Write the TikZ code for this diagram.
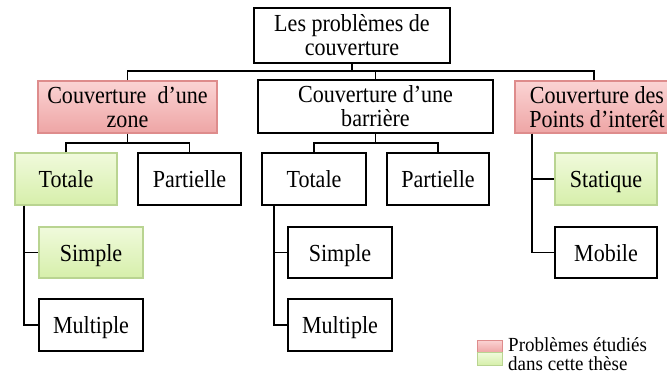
\documentclass[tikz,border=0pt]{standalone}
\usepackage{fontspec}
\setmainfont{Liberation Serif}[FakeStretch=0.9]
\newfontfamily\legfont{Liberation Serif}[FakeStretch=0.95]
\definecolor{pinkT}{RGB}{251,212,212}
\definecolor{pinkB}{RGB}{238,165,165}
\definecolor{pinkD}{RGB}{222,140,140}
\definecolor{greenT}{RGB}{240,250,220}
\definecolor{greenB}{RGB}{214,239,170}
\definecolor{greenD}{RGB}{185,212,145}
\begin{document}
\begin{tikzpicture}[x=1pt,y=-1pt,
  box/.style={draw=black, line width=1.3pt, inner sep=0pt, align=center,
    font=\fontsize{24.5}{24}\selectfont},
  single/.style={text height=18pt, text depth=1pt},
  pinkbox/.style={box, draw=pinkD, top color=pinkT, bottom color=pinkB},
  greenbox/.style={box, draw=greenD, top color=greenT, bottom color=greenB},
  conn/.style={line width=1.6pt, line join=miter}]
\useasboundingbox (0,0) rectangle (667,376);

% level 0
\node[box, minimum width=196pt, minimum height=55pt] (top) at (352,35.5)
  {Les problèmes de\\couverture};

% level 1
\node[pinkbox, minimum width=179pt, minimum height=52pt] (zone) at (127.5,107)
  {Couverture\ \ d’une\\zone};
\node[box, minimum width=235pt, minimum height=53pt] (barr) at (375.5,106.5)
  {Couverture d’une\\barrière};
\node[pinkbox, minimum width=164pt, minimum height=52pt] (pts) at (597,107)
  {Couverture des\\Points d’interêt};

% level 2
\node[greenbox, single, minimum width=102pt, minimum height=52pt] (ztot) at (66,179) {Totale};
\node[box, single, minimum width=103pt, minimum height=52pt] (zpar) at (189.5,179) {Partielle};
\node[box, single, minimum width=104pt, minimum height=52pt] (btot) at (314,179) {Totale};
\node[box, single, minimum width=102pt, minimum height=52pt] (bpar) at (438,179) {Partielle};
\node[greenbox, single, minimum width=102pt, minimum height=52pt] (stat) at (606,179) {Statique};
\node[box, single, minimum width=102pt, minimum height=51pt] (mob) at (606,252.5) {Mobile};

% level 3
\node[greenbox, single, minimum width=104pt, minimum height=51pt] (zsim) at (91,252.5) {Simple};
\node[box, single, minimum width=104pt, minimum height=52pt] (zmul) at (91,325) {Multiple};
\node[box, single, minimum width=104pt, minimum height=51pt] (bsim) at (340,252.5) {Simple};
\node[box, single, minimum width=104pt, minimum height=52pt] (bmul) at (340,325) {Multiple};

% connectors
\coordinate (bus1) at (352,71);
\draw[conn] (top.south) -- (bus1);
\draw[conn] (zone.north) |- (bus1);
\draw[conn] (barr.north) |- (bus1);
\draw[conn] ([xshift=-3pt]pts.north) |- (bus1);

\coordinate (bus2) at (127.5,143);
\draw[conn] (zone.south) -- (bus2);
\draw[conn] (ztot.north) |- (bus2);
\draw[conn] (zpar.north) |- (bus2);

\coordinate (bus3) at (375.5,143);
\draw[conn] (barr.south) -- (bus3);
\draw[conn] (btot.north) |- (bus3);
\draw[conn] (bpar.north) |- (bus3);

\draw[conn] ([xshift=-42pt]ztot.south) |- (zsim.west);
\draw[conn] ([xshift=-42pt]ztot.south) |- (zmul.west);
\draw[conn] ([xshift=-40pt]btot.south) |- (bsim.west);
\draw[conn] ([xshift=-40pt]btot.south) |- (bmul.west);
\draw[conn] ([xshift=-65pt]pts.south) |- (stat.west);
\draw[conn] ([xshift=-65pt]pts.south) |- (mob.west);

% legend
\node[draw=pinkD, line width=0.8pt, top color=pinkT, bottom color=pinkB,
  minimum width=25pt, minimum height=12.5pt, inner sep=0pt] (legp) at (489.5,346.25) {};
\node[draw=greenD, line width=0.8pt, top color=greenT, bottom color=greenB,
  minimum width=25pt, minimum height=12.5pt, inner sep=0pt] (legg) at (489.5,358.75) {};
\node[anchor=west, align=left, inner sep=0pt, font=\legfont\fontsize{20}{19}\selectfont]
  (legt) at (508,354) {Problèmes étudiés\\dans cette thèse};
\end{tikzpicture}
\end{document}
